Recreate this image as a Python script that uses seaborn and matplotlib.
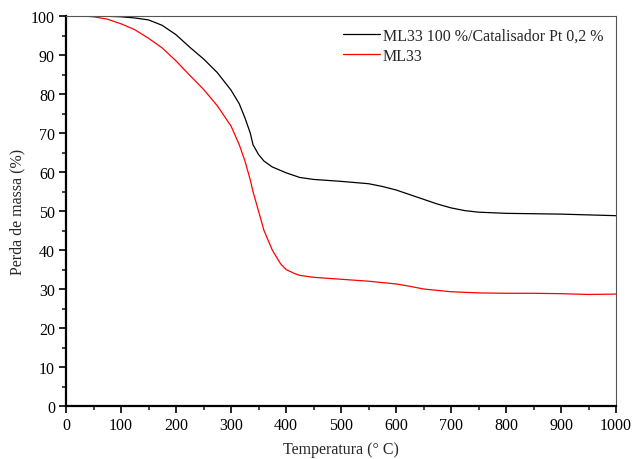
import matplotlib
matplotlib.use("Agg")
import matplotlib.pyplot as plt
import seaborn as sns
import pandas as pd
from matplotlib.ticker import MultipleLocator

temp_black = [30, 60, 100, 125, 150, 175, 200, 225, 250, 275, 300, 315, 325, 335, 340, 350, 360, 375, 400, 425, 450, 500, 550, 575, 600, 625, 650, 675, 700, 725, 750, 800, 850, 900, 950, 1000]
mass_black = [100, 100, 99.8, 99.5, 99.0, 97.6, 95.2, 92.0, 89.0, 85.5, 81.0, 77.5, 74.0, 70.0, 67.0, 64.5, 62.8, 61.3, 59.8, 58.6, 58.1, 57.6, 57.0, 56.3, 55.4, 54.2, 53.0, 51.8, 50.8, 50.1, 49.7, 49.4, 49.3, 49.2, 49.0, 48.8]

temp_red = [30, 50, 75, 100, 125, 150, 175, 200, 225, 250, 275, 300, 315, 325, 335, 340, 350, 360, 375, 390, 400, 415, 425, 450, 500, 550, 600, 625, 650, 700, 750, 800, 850, 900, 950, 1000]
mass_red = [100, 99.8, 99.2, 98.0, 96.5, 94.3, 91.8, 88.5, 84.8, 81.2, 77.0, 71.8, 67.0, 63.0, 58.0, 55.0, 50.0, 45.0, 40.0, 36.5, 35.0, 34.0, 33.5, 33.0, 32.5, 32.0, 31.3, 30.7, 30.0, 29.3, 29.0, 28.9, 28.9, 28.8, 28.6, 28.7]

labels = ["ML33 100 %/Catalisador Pt 0,2 %", "ML33"]

sns.set_theme(style="ticks")
plt.rcParams["font.family"] = ["Liberation Serif", "DejaVu Serif"]

df = pd.concat([
    pd.DataFrame({"T": temp_black, "m": mass_black, "s": labels[0]}),
    pd.DataFrame({"T": temp_red, "m": mass_red, "s": labels[1]}),
])

fig = plt.figure(figsize=(6.33, 4.6), dpi=100)
ax = fig.add_axes([66/633, 1 - 407/460, 550/633, 390/460])
sns.lineplot(data=df, x="T", y="m", hue="s", palette=["black", "red"],
             linewidth=0.9, ax=ax, sort=False, estimator=None)

ax.set_xlim(0, 1000)
ax.set_ylim(0, 100)
ax.xaxis.set_major_locator(MultipleLocator(100))
ax.xaxis.set_minor_locator(MultipleLocator(50))
ax.yaxis.set_major_locator(MultipleLocator(10))
ax.yaxis.set_minor_locator(MultipleLocator(5))
ax.tick_params(which="major", direction="out", length=5, width=1.2, labelsize=11.5, colors="black", pad=3)
ax.tick_params(which="minor", direction="out", length=3, width=1.2)
for s in ["left", "bottom"]:
    ax.spines[s].set_linewidth(1.6)
    ax.spines[s].set_color("black")
for s in ["top", "right"]:
    ax.spines[s].set_linewidth(0.8)
    ax.spines[s].set_color("#555555")
    ax.spines[s].set_visible(True)

ax.set_xlabel("Temperatura (° C)", fontsize=11.5, labelpad=6)
ax.set_ylabel("Perda de massa (%)", fontsize=11.5, labelpad=4)

leg = ax.legend(title=None, frameon=False, loc="upper left", fontsize=11.5,
                handlelength=2.3, handletextpad=0.2, labelspacing=0.25,
                borderpad=0, borderaxespad=0,
                bbox_to_anchor=(343/633, 1 - 29/460), bbox_transform=fig.transFigure)
for line in leg.get_lines():
    line.set_linewidth(0.9)

fig.savefig("out.png", dpi=100)
